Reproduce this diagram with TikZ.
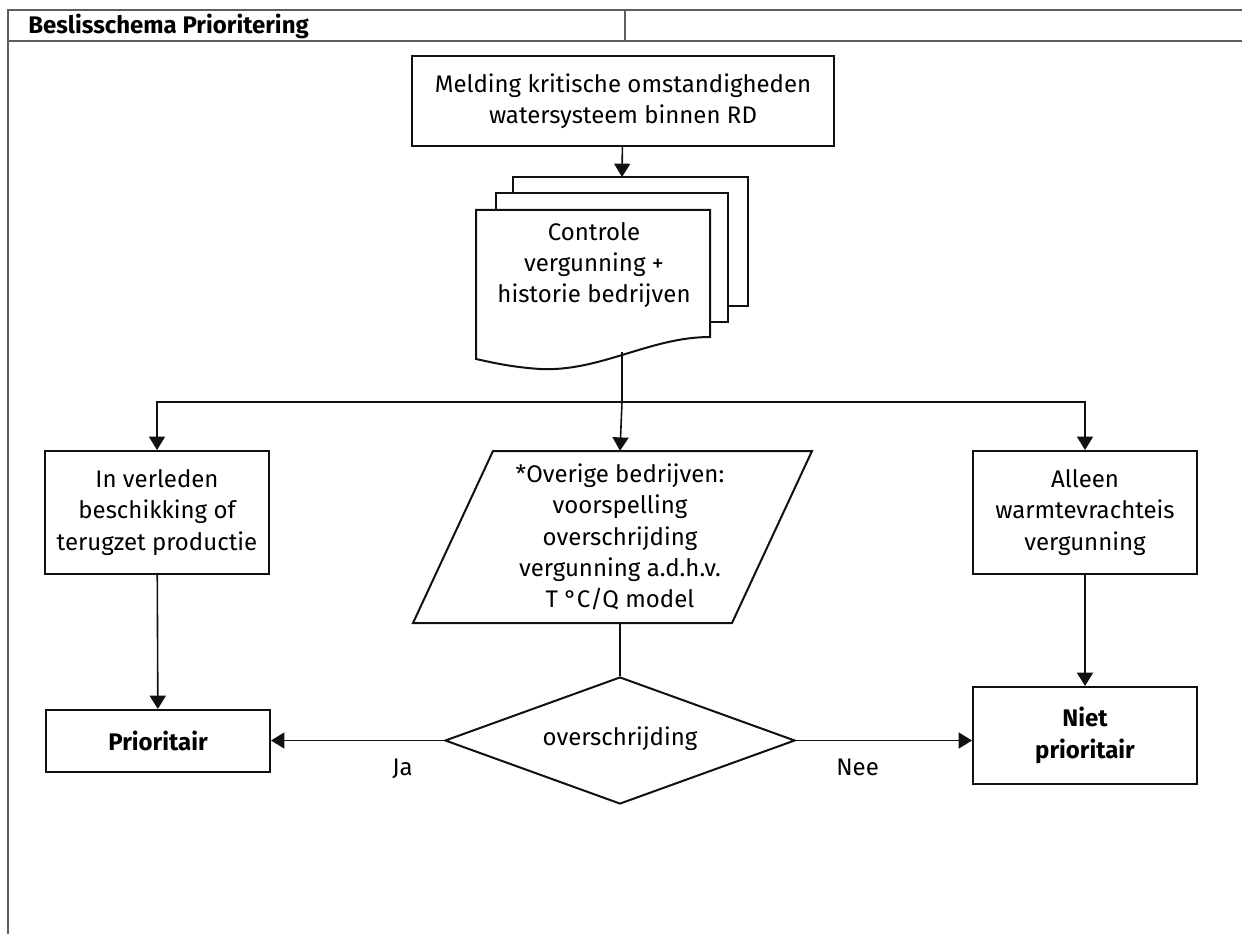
\documentclass[tikz,border=0pt]{standalone}
\usepackage{fontspec}
\setmainfont{Fira Sans}
\usepackage{xcolor}
\definecolor{frameGrey}{HTML}{5E5E5E}
\definecolor{flowBlack}{HTML}{111111}
\usetikzlibrary{shapes.geometric,arrows.meta,positioning}
\newcommand{\pxu}{0.75pt}
\tikzset{
  stepbox/.style={rectangle, draw=flowBlack, line width=1.5pt, align=center, inner sep=0pt,
    font=\fontsize{18}{23.5}\selectfont},
  plaintext/.style={align=center, inner sep=0pt, font=\fontsize{18}{23.5}\selectfont},
  docline/.style={draw=flowBlack, line width=1.5pt},
  flow/.style={draw=flowBlack, line width=1.2pt, -{Triangle[length=10pt,width=12pt]}},
  flowplain/.style={draw=flowBlack, line width=1.2pt},
}

\begin{document}
\begin{tikzpicture}[x=0.75pt, y=-0.75pt]
  \useasboundingbox (0,0) rectangle (1242,934);
  % header frame
  \draw[frameGrey, line width=1.1pt] (8,934) -- (8,10) -- (1242,10);
  \draw[frameGrey, line width=1.1pt] (8,41) -- (1242,41);
  \draw[frameGrey, line width=1.1pt] (625,10) -- (625,41);
  \node[anchor=west, inner sep=0pt, font=\fontsize{18}{20}\selectfont\bfseries] (title) at (28,26) {Beslisschema Prioritering};

  \node[stepbox, minimum width=422*\pxu, minimum height=90*\pxu] (melding) at (623,101)
    {Melding kritische omstandigheden\\watersysteem binnen RD};

  % stacked documents
  \coordinate (docTop) at (622,177);
  \coordinate (docBot) at (622,352);
  \draw[docline] (513,193) -- (513,177) -- (748,177) -- (748,306) -- (728,306);
  \draw[docline] (496,210) -- (496,193) -- (728,193) -- (728,322) -- (710,322);
  \draw[docline] (476,210) -- (710,210) -- (710,337)
    .. controls (650,337) and (600,372) .. (540,369)
    .. controls (510,367) and (490,362) .. (476,359) -- cycle;
  \node[plaintext] (controle) at (594,265) {Controle\\vergunning +\\historie bedrijven};

  \coordinate (split) at (622,402);

  \node[stepbox, minimum width=224*\pxu, minimum height=123*\pxu] (past) at (157,512.5)
    {In verleden\\beschikking of\\terugzet productie};
  \draw[docline] (493,451) -- (812,451) -- (732,623) -- (413,623) -- cycle;
  \node[plaintext, minimum height=172*\pxu] (forecast) at (620,537)
    {*Overige bedrijven:\\voorspelling\\overschrijding\\vergunning a.d.h.v.\\T °C/Q model};
  \node[stepbox, minimum width=224*\pxu, minimum height=123*\pxu] (alone) at (1085,512.5)
    {Alleen\\warmtevrachteis\\vergunning};

  \node[diamond, aspect=2.75, draw=flowBlack, line width=1.5pt, inner sep=0pt, minimum width=350*\pxu,
    minimum height=127*\pxu, font=\fontsize{18}{23.5}\selectfont] (check) at (620,740.5)
    {\raisebox{6pt}{overschrijding}};
  \node[stepbox, minimum width=224*\pxu, minimum height=62*\pxu, font=\fontsize{18}{23.5}\selectfont\bfseries]
    (prio) at (158,741) {Prioritair};
  \node[stepbox, minimum width=224*\pxu, minimum height=97*\pxu, font=\fontsize{18}{23.5}\selectfont\bfseries]
    (notprio) at (1085,735.5) {Niet\\prioritair};

  \draw[flow] (melding) -- (docTop);
  \draw[flowplain] (docBot) -- (split);
  \draw[flow] (split) -| (past.north);
  \draw[flow] (split) -- (forecast.north);
  \draw[flow] (split) -| (alone.north);
  \draw[flow] (past) -- (prio);
  \draw[flow] (alone) -- (notprio);
  \draw[flowplain] (forecast.south) -- (check.north);
  \draw[flow] (check.west) -- node[plaintext, pos=0.24, below=13pt] (ja) {Ja} (check.west -| prio.east);
  \draw[flow] (check.east) -- node[plaintext, pos=0.35, below=13pt] (nee) {Nee} (check.east -| notprio.west);
\end{tikzpicture}
\end{document}
